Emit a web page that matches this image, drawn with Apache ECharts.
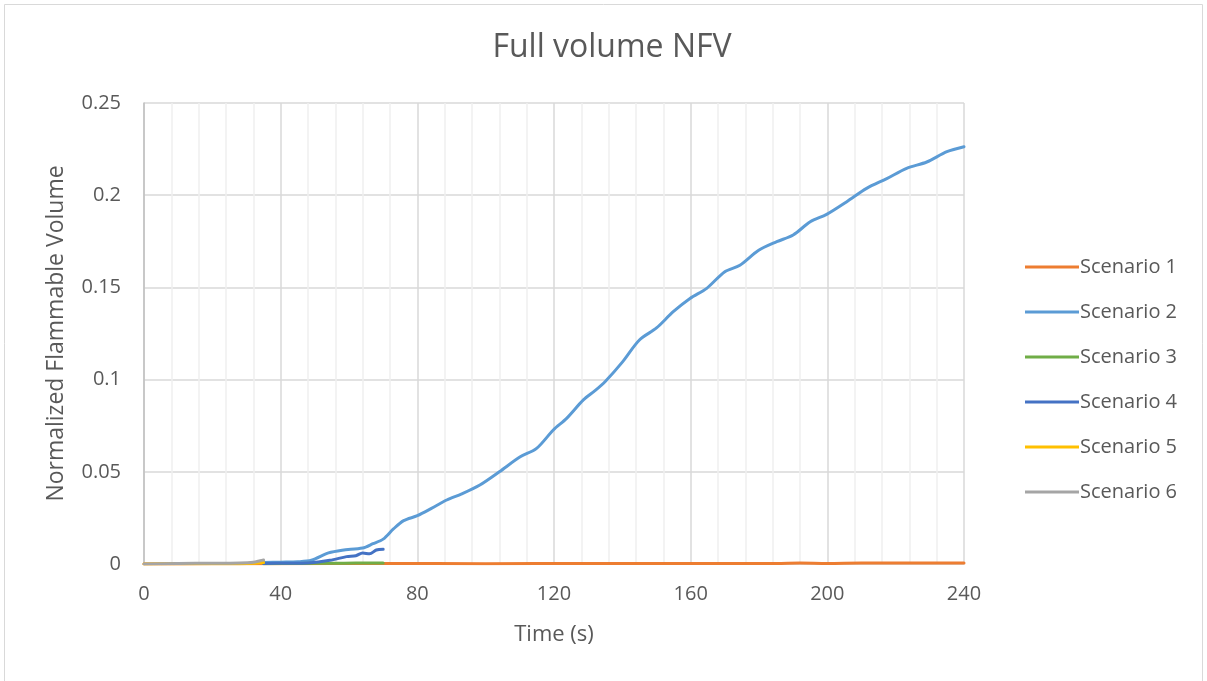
<!DOCTYPE html>
<html><head><meta charset="utf-8">
<script src="https://cdn.jsdelivr.net/npm/echarts@6/dist/echarts.min.js"></script>
<style>html,body{margin:0;padding:0;background:#fff}#c{width:1207px;height:681px}</style>
</head><body><div id="c"></div>
<script>
const title = "Full volume NFV";
const xName = "Time (s)";
const yName = "Normalized Flammable Volume";
const seriesNames = ["Scenario 1","Scenario 2","Scenario 3","Scenario 4","Scenario 5","Scenario 6"];
const colors = ["#ED7D31","#5B9BD5","#70AD47","#4472C4","#FFC000","#A5A5A5"];

const s1 = [[0,0],[20,0.0001],[40,0.0002],[70,0.0003],[100,0.0002],[130,0.0003],[160,0.0003],[185,0.0003],[192,0.0005],[200,0.0003],[210,0.0005],[240,0.0005]];
const s2 = [[35,0.0008],[40,0.001],[45,0.0012],[49,0.002],[54,0.006],[58,0.0075],[64,0.0087],[67,0.011],[70,0.0135],[73,0.019],[76,0.0235],[80,0.0262],[84,0.030],[88.6,0.0347],[93,0.038],[98.3,0.0428],[104,0.050],[110,0.058],[114.9,0.0627],[119.8,0.0727],[123.7,0.079],[128.6,0.089],[132,0.094],[135,0.099],[140,0.1095],[145,0.1215],[150,0.128],[154.9,0.1368],[159.8,0.144],[164.7,0.1495],[170,0.1585],[174.4,0.162],[179.8,0.170],[185.2,0.1748],[190,0.1784],[195,0.1856],[199.8,0.1896],[205.7,0.1965],[211.5,0.2037],[217.4,0.209],[223.2,0.2146],[229.1,0.218],[235,0.2236],[240,0.2263]];
const s3 = [[35,0.0002],[45,0.0003],[55,0.0004],[62,0.0005],[70,0.0005]];
const s4 = [[35,0.0003],[42,0.0004],[48,0.0006],[54.4,0.002],[59.3,0.004],[62,0.0045],[64,0.006],[66,0.0055],[68,0.0076],[70,0.008]];
const s5 = [[0,0],[10,0.0001],[20,0.0001],[28,0.0002],[32,0.0004],[35,0.0008]];
const s6 = [[0,0],[10,0.0003],[20,0.0004],[28,0.0006],[32,0.001],[34,0.0018],[35,0.0022]];
const allData = [s1,s2,s3,s4,s5,s6];

const chart = echarts.init(document.getElementById('c'));
const font = "'Open Sans', 'Liberation Sans', sans-serif";
chart.setOption({
  animation:false,
  textStyle:{fontFamily:font},
  title:{text:title,left:607,top:27,textAlign:'center',textStyle:{fontSize:32,fontWeight:'normal',color:'#595959',fontFamily:font}},
  grid:{left:144,right:243,top:103,bottom:117},
  legend:{orient:'vertical',left:1020,top:252,itemGap:25,itemWidth:54,itemHeight:3,icon:'rect',
    textStyle:{fontSize:20,color:'#595959',fontFamily:font,padding:[0,0,0,-4]},
    data:seriesNames},
  xAxis:{type:'value',min:0,max:240,interval:40,name:xName,nameLocation:'middle',nameGap:60,
    nameTextStyle:{fontSize:22,color:'#595959'},
    axisLine:{show:true,lineStyle:{color:'#d9d9d9'}},axisTick:{show:false},
    axisLabel:{fontSize:20,color:'#595959',margin:20},
    splitLine:{show:true,lineStyle:{color:'#d9d9d9',width:1.5}},
    minorTick:{show:false,splitNumber:5},
    minorSplitLine:{show:true,lineStyle:{color:'#f0f0f0',width:1.5}}},
  yAxis:{type:'value',min:0,max:0.25,interval:0.05,name:yName,nameLocation:'middle',nameGap:76,
    nameTextStyle:{fontSize:23,color:'#595959'},
    axisLine:{show:true,lineStyle:{color:'#bfbfbf',width:1.5}},axisTick:{show:false},
    axisLabel:{fontSize:20,color:'#595959',margin:23},
    splitLine:{show:true,lineStyle:{color:'#d9d9d9',width:1.5}}},
  graphic:[{type:'rect',shape:{x:4.5,y:4.5,width:1198,height:690},style:{fill:null,stroke:'#d9d9d9',lineWidth:1},silent:true,z:-1}],
  series: seriesNames.map((n,i)=>({name:n,type:'line',data:allData[i],showSymbol:false,smooth:0.3,
    lineStyle:{color:colors[i],width:3,cap:'round'},itemStyle:{color:colors[i]}}))
});
</script></body></html>
